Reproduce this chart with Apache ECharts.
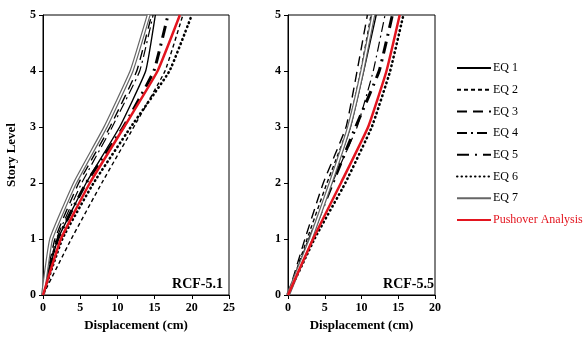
<!DOCTYPE html>
<html>
<head>
<meta charset="utf-8">
<script src="https://cdn.jsdelivr.net/npm/echarts@6/dist/echarts.min.js"></script>
<style>
  html, body { margin: 0; padding: 0; background: #fff; }
  #chart { width: 585px; height: 341px; }
</style>
</head>
<body>
<div id="chart"></div>
<script>
// story levels (y) shared by every curve
var levels = [0, 1, 2, 3, 4, 5];
var names = ['EQ 1', 'EQ 2', 'EQ 3', 'EQ 4', 'EQ 5', 'EQ 6', 'EQ 7', 'Pushover Analysis'];

// displacement (cm) per level, RCF-5.1
var rcf51_eq1 = [0, 2.0, 5.8, 10.3, 13.8, 15.1];
var rcf51_eq2 = [0, 3.8, 7.9, 12.2, 16.4, 18.8];
var rcf51_eq3 = [0, 1.6, 4.8, 9.0, 12.6, 14.6];
var rcf51_eq4 = [0, 1.8, 5.2, 9.3, 13.0, 14.8];
var rcf51_eq5 = [0, 2.0, 5.8, 10.8, 14.9, 16.8];
var rcf51_eq6 = [0, 2.6, 6.8, 11.8, 17.0, 20.0];
var rcf51_eq7 = [0, 1.1, 4.3, 8.4, 11.9, 14.2];
var rcf51_push = [0, 2.4, 6.3, 10.9, 15.4, 18.4];

// displacement (cm) per level, RCF-5.5
var rcf55_eq1 = [0, 3.2, 5.9, 8.5, 10.3, 12.0];
var rcf55_eq2 = [0, 2.6, 5.3, 8.2, 9.9, 11.3];
var rcf55_eq3 = [0, 2.3, 4.8, 7.9, 9.4, 10.8];
var rcf55_eq4 = [0, 2.8, 6.0, 9.4, 11.6, 13.2];
var rcf55_eq5 = [0, 3.0, 6.1, 9.2, 12.4, 14.2];
var rcf55_eq6 = [0, 3.6, 7.8, 11.4, 13.9, 15.7];
var rcf55_eq7 = [0, 3.1, 5.8, 8.3, 10.1, 11.6];
var rcf55_push = [0, 3.4, 7.2, 10.9, 13.4, 15.2];

var xTicksLeft = [0, 5, 10, 15, 20, 25];
var xTicksRight = [0, 5, 10, 15, 20];

var serif = 'Liberation Serif';

function pts(xs) {
    return xs.map(function (x, i) { return [x, levels[i]]; });
}

// line styles for each EQ
var styles = [
    { color: '#000', width: 1.4, type: 'solid' },
    { color: '#000', width: 1.4, type: [4, 3] },
    { color: '#000', width: 1.4, type: [10, 6] },
    { color: '#000', width: 1.2, type: [10, 4, 2, 4] },
    { color: '#000', width: 3, type: [12, 6, 2, 6] },
    { color: '#000', width: 2.6, type: [0.5, 4], cap: 'round' },
    { color: '#666', width: 4, type: 'solid' },
    { color: '#e3151f', width: 2.5, type: 'solid' }
];

function makeSeries(sets, idx) {
    var out = [];
    sets.forEach(function (s, i) {
        out.push({
            name: names[i],
            type: 'line',
            xAxisIndex: idx,
            yAxisIndex: idx,
            data: pts(s),
            symbol: 'none',
            smooth: 0.12,
            silent: true,
            color: styles[i].color,
            lineStyle: styles[i],
            z: i === 7 ? 5 : 2
        });
        if (i === 6) {
            // white core to give the double line look
            out.push({
                name: 'EQ 7 core',
                type: 'line',
                xAxisIndex: idx,
                yAxisIndex: idx,
                data: pts(s),
                symbol: 'none',
                smooth: 0.12,
                silent: true,
                lineStyle: { color: '#fff', width: 1.6 },
                z: 3
            });
        }
    });
    return out;
}

var leftSets = [rcf51_eq1, rcf51_eq2, rcf51_eq3, rcf51_eq4, rcf51_eq5, rcf51_eq6, rcf51_eq7, rcf51_push];
var rightSets = [rcf55_eq1, rcf55_eq2, rcf55_eq3, rcf55_eq4, rcf55_eq5, rcf55_eq6, rcf55_eq7, rcf55_push];

var axisText = { color: '#000', fontFamily: serif, fontWeight: 'bold', fontSize: 12 };

function xAxisOf(grid, max, ticks) {
    return {
        type: 'value', gridIndex: grid, min: 0, max: max, interval: 5,
        name: 'Displacement (cm)', nameLocation: 'middle', nameGap: 23,
        nameTextStyle: { color: '#000', fontFamily: serif, fontWeight: 'bold', fontSize: 13 },
        axisLine: { show: true, lineStyle: { color: '#000', width: 1 } },
        axisTick: { show: true, inside: false, length: 4, lineStyle: { color: '#000' } },
        axisLabel: Object.assign({ margin: 7, customValues: ticks }, axisText),
        splitLine: { show: false }
    };
}

function yAxisOf(grid, withName) {
    return {
        type: 'value', gridIndex: grid, min: 0, max: 5, interval: 1,
        name: withName ? 'Story Level' : '', nameLocation: 'middle', nameGap: 25,
        nameTextStyle: { color: '#000', fontFamily: serif, fontWeight: 'bold', fontSize: 13 },
        axisLine: { show: true, lineStyle: { color: '#000', width: 1 } },
        axisTick: { show: true, inside: false, length: 4, lineStyle: { color: '#000' } },
        axisLabel: Object.assign({ margin: 7 }, axisText),
        splitLine: { show: false }
    };
}

var chart = echarts.init(document.getElementById('chart'), null, { renderer: 'canvas' });

var option = {
    animation: false,
    backgroundColor: '#fff',
    grid: [
        { left: 43, right: 356, top: 15, bottom: 46, show: true, borderColor: '#000', borderWidth: 1, backgroundColor: 'transparent' },
        { left: 288, right: 150, top: 15, bottom: 46, show: true, borderColor: '#000', borderWidth: 1, backgroundColor: 'transparent' }
    ],
    title: [
        { text: 'RCF-5.1', right: 362, top: 277, padding: 0, textStyle: { color: '#000', fontFamily: serif, fontWeight: 'bold', fontSize: 14 } },
        { text: 'RCF-5.5', right: 151, top: 277, padding: 0, textStyle: { color: '#000', fontFamily: serif, fontWeight: 'bold', fontSize: 14 } }
    ],
    legend: {
        orient: 'vertical',
        left: 456,
        top: 62,
        itemWidth: 34,
        itemHeight: 12,
        itemGap: 9.7,
        padding: 0,
        itemStyle: { opacity: 0 },
        textStyle: { color: '#000', fontFamily: serif, fontSize: 12, padding: [0, 0, 0, -3] },
        data: names.map(function (n, i) {
            return i === 7 ? { name: n, textStyle: { color: '#e3151f' } } : { name: n };
        })
    },
    xAxis: [xAxisOf(0, 25, xTicksLeft), xAxisOf(1, 20, xTicksRight)],
    yAxis: [yAxisOf(0, true), yAxisOf(1, false)],
    series: makeSeries(leftSets, 0).concat(makeSeries(rightSets, 1))
};

chart.setOption(option);
</script>
</body>
</html>
